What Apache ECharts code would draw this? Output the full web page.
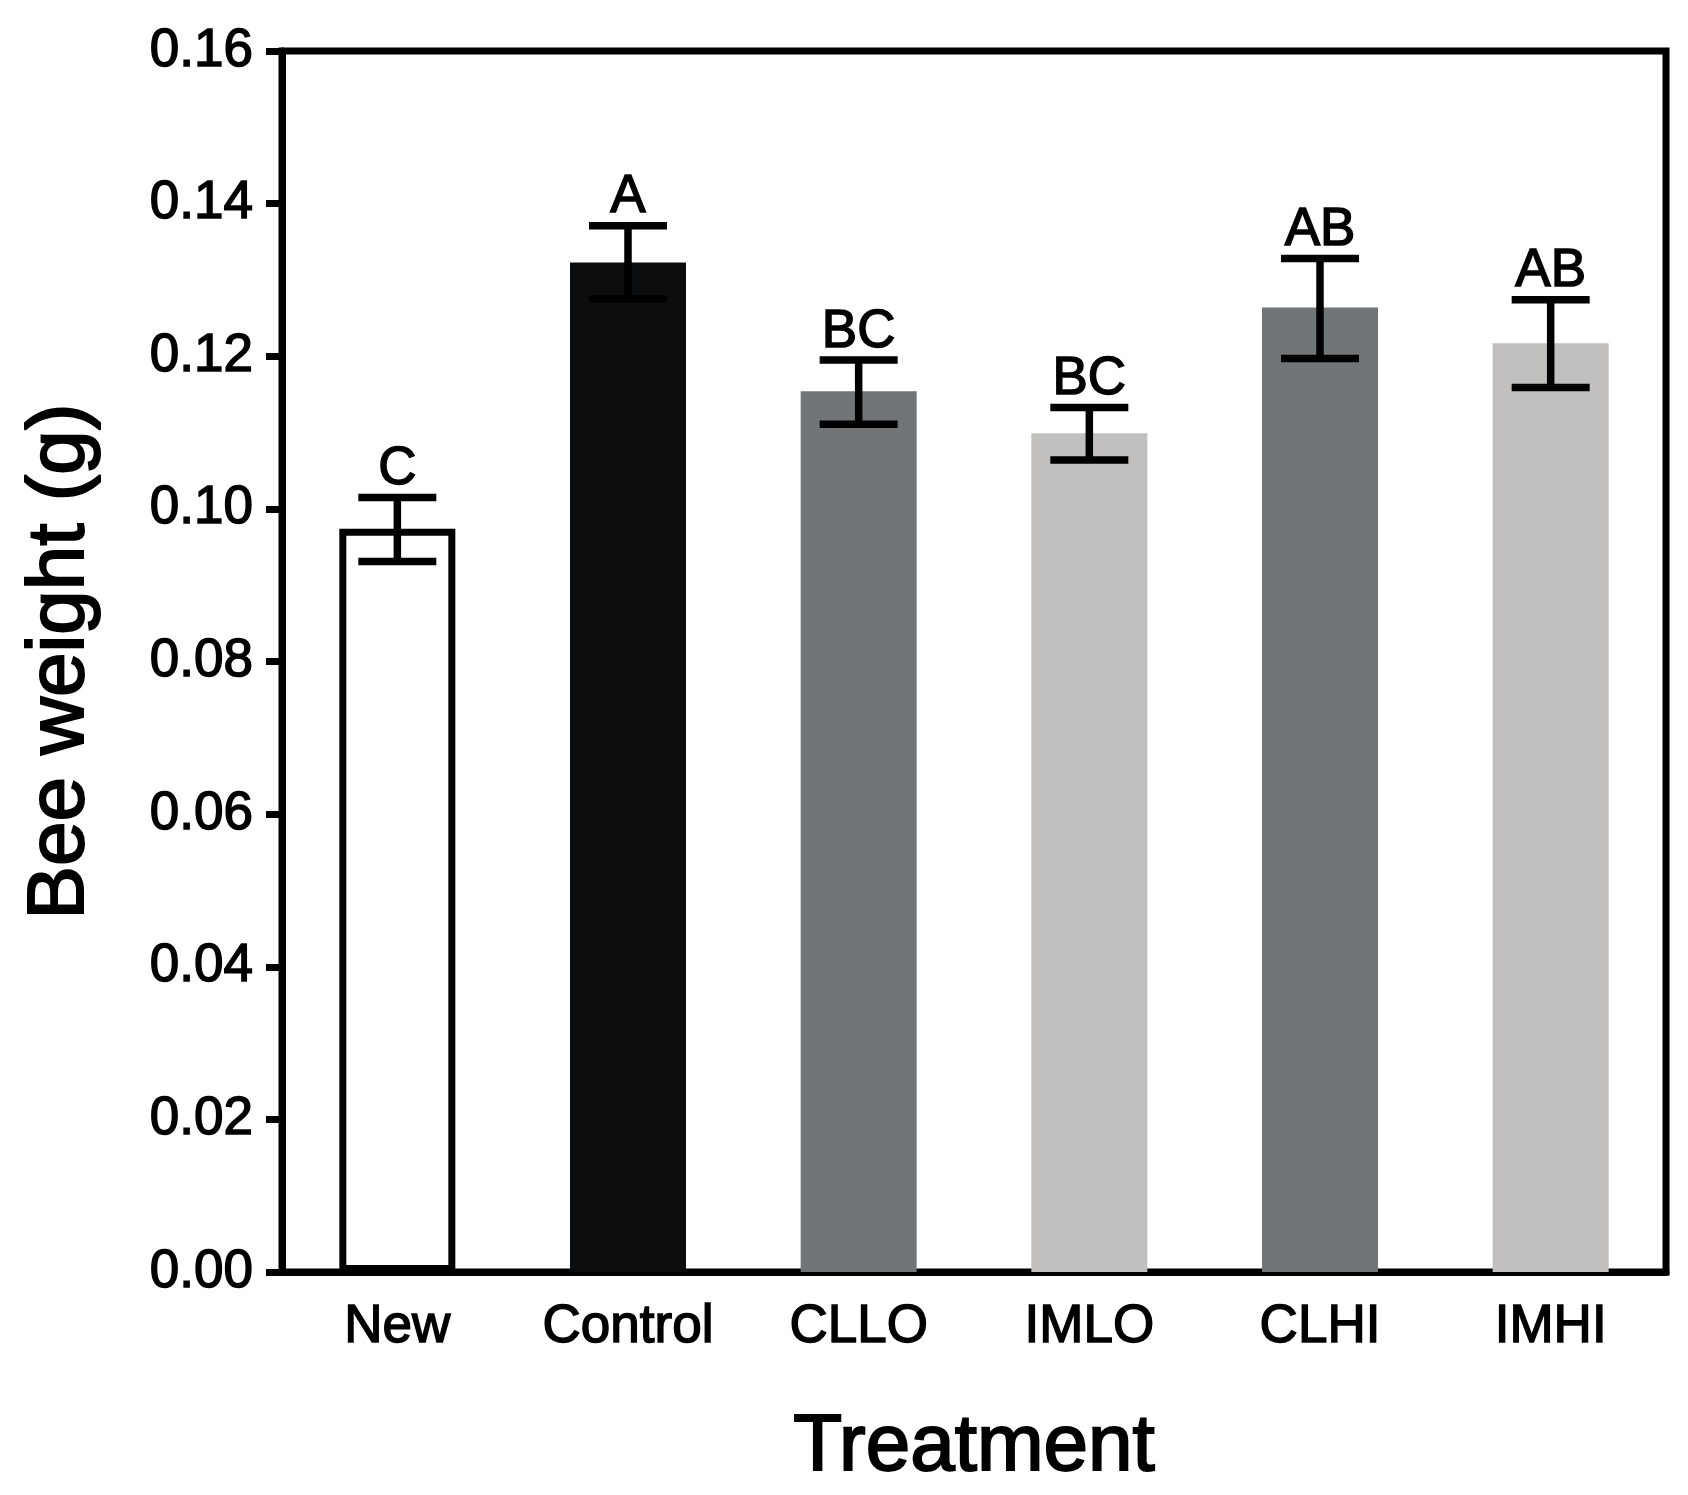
<!DOCTYPE html>
<html>
<head>
<meta charset="utf-8">
<script src="https://cdn.jsdelivr.net/npm/echarts@6/dist/echarts.min.js"></script>
<style>
html,body{margin:0;padding:0;background:#fff;}
#chart{width:1688px;height:1495px;}
</style>
</head>
<body>
<div id="chart"></div>
<script>
var categories = ['New', 'Control', 'CLLO', 'IMLO', 'CLHI', 'IMHI'];
var means = [0.0974, 0.1323, 0.1154, 0.1099, 0.1264, 0.1217];
var errUpper = [0.1015, 0.1371, 0.1195, 0.1133, 0.1328, 0.1274];
var errLower = [0.0931, 0.1275, 0.1111, 0.1064, 0.1197, 0.1159];
var letters = ['C', 'A', 'BC', 'BC', 'AB', 'AB'];
var yTicks = [0, 0.02, 0.04, 0.06, 0.08, 0.10, 0.12, 0.14, 0.16];

var fills = ['#ffffff', '#0c0d0f', '#717577', '#c1c0be', '#717577', '#c1c0be'];
var FONT = '"Liberation Sans", Arial, Helvetica, sans-serif';

var chart = echarts.init(document.getElementById('chart'), null, {renderer: 'canvas'});

var barData = means.map(function (v, i) {
  var item = {value: v, itemStyle: {color: fills[i]}};
  if (i === 0) {
    item.itemStyle.borderColor = '#000';
    item.itemStyle.borderWidth = 7;
  }
  return item;
});

var errData = categories.map(function (c, i) {
  return [i, errLower[i], errUpper[i]];
});

var option = {
  backgroundColor: '#fff',
  animation: false,
  grid: {
    left: 282, right: 22, top: 51, bottom: 223,
    show: true, borderColor: '#000', borderWidth: 7, backgroundColor: 'transparent'
  },
  xAxis: {
    type: 'category',
    data: categories,
    name: 'Treatment',
    nameLocation: 'middle',
    nameGap: 136,
    nameTextStyle: {fontFamily: FONT, fontSize: 80, color: '#000', verticalAlign: 'top',
      textBorderColor: '#000', textBorderWidth: 2},
    axisLine: {show: true, lineStyle: {color: '#000', width: 7}},
    axisTick: {show: false},
    axisLabel: {fontFamily: FONT, fontSize: 53, color: '#000', margin: 29,
      textBorderColor: '#000', textBorderWidth: 1.5},
    splitLine: {show: false}
  },
  yAxis: {
    type: 'value',
    min: yTicks[0],
    max: yTicks[yTicks.length - 1],
    interval: yTicks[1] - yTicks[0],
    name: 'Bee weight (g)',
    nameLocation: 'middle',
    nameGap: 181,
    nameMoveOverlap: false,
    nameTextStyle: {fontFamily: FONT, fontSize: 80, color: '#000',
      textBorderColor: '#000', textBorderWidth: 2},
    axisLine: {show: true, lineStyle: {color: '#000', width: 7}},
    axisTick: {show: true, inside: false, length: 16, lineStyle: {color: '#000', width: 7}},
    axisLabel: {
      fontFamily: FONT, fontSize: 53, color: '#000', margin: 29,
      textBorderColor: '#000', textBorderWidth: 1.5,
      formatter: function (v) { return v.toFixed(2); }
    },
    splitLine: {show: false}
  },
  series: [
    {
      type: 'bar',
      data: barData,
      barWidth: 116,
      z: 2
    },
    {
      type: 'custom',
      z: 5,
      data: errData,
      encode: {x: 0, y: [1, 2]},
      renderItem: function (params, api) {
        var i = api.value(0);
        var lo = api.coord([i, api.value(1)]);
        var hi = api.coord([i, api.value(2)]);
        var half = 39;
        var lw = 7.5;
        return {
          type: 'group',
          children: [
            {type: 'line', shape: {x1: hi[0], y1: hi[1], x2: lo[0], y2: lo[1]}, style: {stroke: '#000', lineWidth: lw}},
            {type: 'line', shape: {x1: hi[0] - half, y1: hi[1], x2: hi[0] + half, y2: hi[1]}, style: {stroke: '#000', lineWidth: lw}},
            {type: 'line', shape: {x1: lo[0] - half, y1: lo[1], x2: lo[0] + half, y2: lo[1]}, style: {stroke: '#000', lineWidth: lw}},
            {type: 'text', style: {
              text: letters[params.dataIndex],
              x: hi[0], y: hi[1] - 28,
              align: 'center', verticalAlign: 'middle',
              font: '53px ' + FONT, fill: '#000',
              stroke: '#000', lineWidth: 1.5
            }}
          ]
        };
      }
    }
  ]
};
chart.setOption(option);
</script>
</body>
</html>
